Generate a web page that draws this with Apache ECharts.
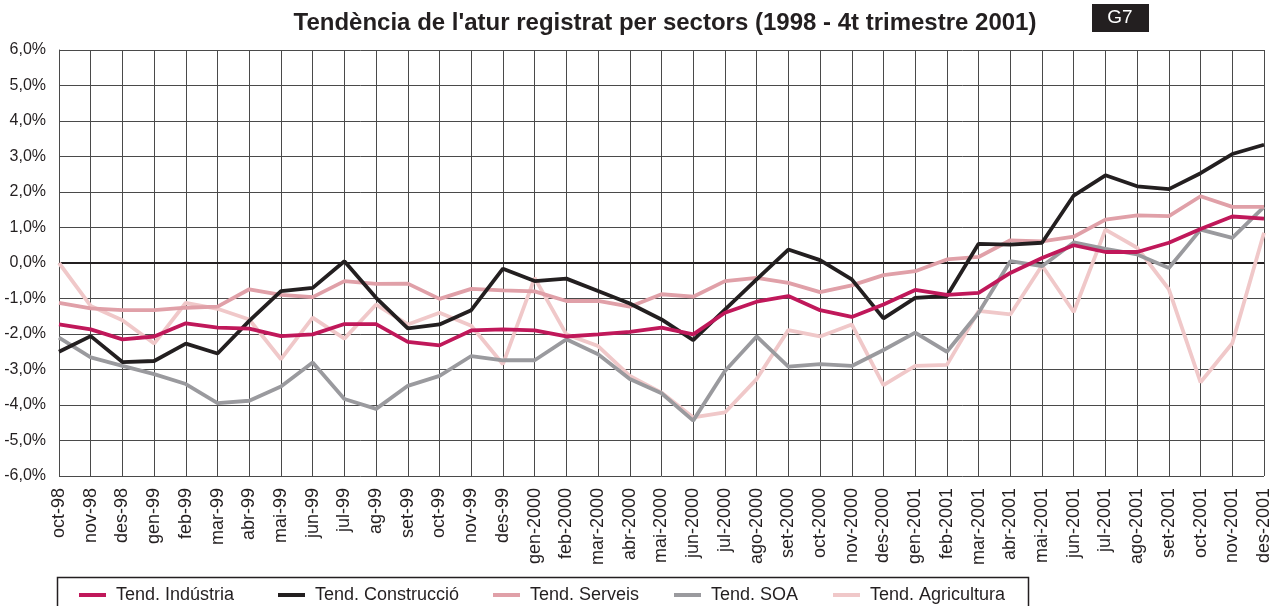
<!DOCTYPE html>
<html><head><meta charset="utf-8">
<script src="https://cdn.jsdelivr.net/npm/echarts@6/dist/echarts.min.js"></script>
<style>html,body{margin:0;padding:0;background:#fff}#c{width:1279px;height:606px}</style>
</head><body><div id="c"></div>
<script>
const categories = ['oct-98','nov-98','des-98','gen-99','feb-99','mar-99','abr-99','mai-99','jun-99','jul-99','ag-99','set-99','oct-99','nov-99','des-99','gen-2000','feb-2000','mar-2000','abr-2000','mai-2000','jun-2000','jul-2000','ago-2000','set-2000','oct-2000','nov-2000','des-2000','gen-2001','feb-2001','mar-2001','abr-2001','mai-2001','jun-2001','jul-2001','ago-2001','set-2001','oct-2001','nov-2001','des-2001'];
const industria = [-1.73,-1.87,-2.15,-2.07,-1.70,-1.82,-1.85,-2.06,-2.01,-1.72,-1.72,-2.22,-2.32,-1.90,-1.87,-1.90,-2.07,-2.01,-1.94,-1.82,-2.01,-1.40,-1.09,-0.93,-1.33,-1.52,-1.17,-0.76,-0.90,-0.84,-0.28,0.14,0.50,0.31,0.31,0.57,0.96,1.31,1.25];
const construccio = [-2.50,-2.06,-2.79,-2.76,-2.27,-2.55,-1.63,-0.79,-0.70,0.05,-0.98,-1.84,-1.73,-1.33,-0.16,-0.51,-0.44,-0.79,-1.14,-1.59,-2.17,-1.31,-0.46,0.38,0.08,-0.46,-1.56,-0.98,-0.93,0.54,0.52,0.57,1.90,2.47,2.16,2.08,2.53,3.07,3.33];
const serveis = [-1.12,-1.28,-1.33,-1.33,-1.26,-1.23,-0.74,-0.90,-0.96,-0.51,-0.59,-0.58,-1.01,-0.73,-0.77,-0.80,-1.07,-1.07,-1.23,-0.88,-0.95,-0.51,-0.42,-0.56,-0.82,-0.63,-0.34,-0.23,0.10,0.17,0.64,0.61,0.74,1.22,1.34,1.32,1.88,1.58,1.58];
const soa = [-2.10,-2.66,-2.90,-3.13,-3.41,-3.95,-3.88,-3.48,-2.80,-3.83,-4.11,-3.46,-3.18,-2.62,-2.74,-2.74,-2.15,-2.57,-3.27,-3.67,-4.44,-3.04,-2.07,-2.92,-2.85,-2.90,-2.45,-1.96,-2.50,-1.40,0.05,-0.09,0.58,0.40,0.24,-0.14,0.94,0.71,1.58];
const agricultura = [0.0,-1.21,-1.61,-2.27,-1.12,-1.29,-1.59,-2.71,-1.54,-2.13,-1.17,-1.73,-1.40,-1.77,-2.85,-0.42,-2.01,-2.34,-3.18,-3.65,-4.35,-4.21,-3.27,-1.89,-2.07,-1.73,-3.44,-2.90,-2.87,-1.35,-1.45,-0.07,-1.38,0.94,0.43,-0.74,-3.36,-2.26,0.85];
const yTicks = {min:-6, max:6, step:1};
const seriesNames = ['Tend. Indústria','Tend. Construcció','Tend. Serveis','Tend. SOA','Tend. Agricultura'];
const colors = ['#c0185a','#231f20','#e0a0a8','#9a9a9e','#f0c8c9'];
const legendLeft = [79,278,493,674,833];

const font = '"Liberation Sans", Arial, sans-serif';
const chart = echarts.init(document.getElementById('c'), null, {renderer:'canvas'});
const dataBy = [industria, construccio, serveis, soa, agricultura];
const drawOrder = [4,3,2,1,0];
const series = drawOrder.map((k, j) => ({
  name: seriesNames[k], type:'line', data: dataBy[k], symbol:'none',
  lineStyle:{color:colors[k], width:3.8}, itemStyle:{color:colors[k]},
  z: 3 + j, animation:false,
  markLine: k===1 ? {silent:true, symbol:'none', label:{show:false},
    lineStyle:{color:'#231f20', width:2, type:'solid'}, data:[{yAxis:0}], z:2} : undefined
}));
const legends = seriesNames.map((n,k)=>({
  data:[n], left: legendLeft[k], top: 586, padding:0, itemWidth:27, itemHeight:4, icon:'rect',
  textStyle:{fontFamily:font, fontSize:18, color:'#231f20', padding:[0,0,0,5]},
  selectedMode:false
}));
chart.setOption({
  animation:false,
  title:{text:"Tendència de l'atur registrat per sectors (1998 - 4t trimestre 2001)", left:660, textAlign:'center', top:6,
    textStyle:{fontFamily:font, fontSize:24, fontWeight:'bold', color:'#231f20'}},
  legend: legends,
  grid:{left:59, right:15, top:50, bottom:130},
  xAxis:{type:'category', data:categories, boundaryGap:false,
    axisLine:{show:true, lineStyle:{color:'#231f20', width:1}}, axisTick:{show:false},
    axisLabel:{rotate:90, interval:0, margin:12, fontFamily:font, fontSize:18, color:'#231f20'},
    splitLine:{show:true, lineStyle:{color:'#4a4a4a', width:1}}},
  yAxis:{type:'value', min:yTicks.min, max:yTicks.max, interval:yTicks.step,
    axisLine:{show:true, lineStyle:{color:'#4a4a4a'}}, axisTick:{show:false},
    axisLabel:{margin:13, fontFamily:font, fontSize:16, color:'#231f20',
      formatter:v=>v.toFixed(1).replace('.',',')+'%'},
    splitLine:{show:true, lineStyle:{color:'#4a4a4a', width:1}}},
  graphic:[
    {type:'rect', shape:{x:1092,y:4,width:57,height:28}, style:{fill:'#231f20'}},
    {type:'text', x:1120, y:18, style:{text:'G7', fill:'#fff', font:'19px '+font, textAlign:'center', textVerticalAlign:'middle'}},
    {type:'rect', shape:{x:57.5,y:577.5,width:971,height:40}, style:{fill:'none', stroke:'#231f20', lineWidth:1.5}, z:-1}
  ],
  series: series
});
</script></body></html>
